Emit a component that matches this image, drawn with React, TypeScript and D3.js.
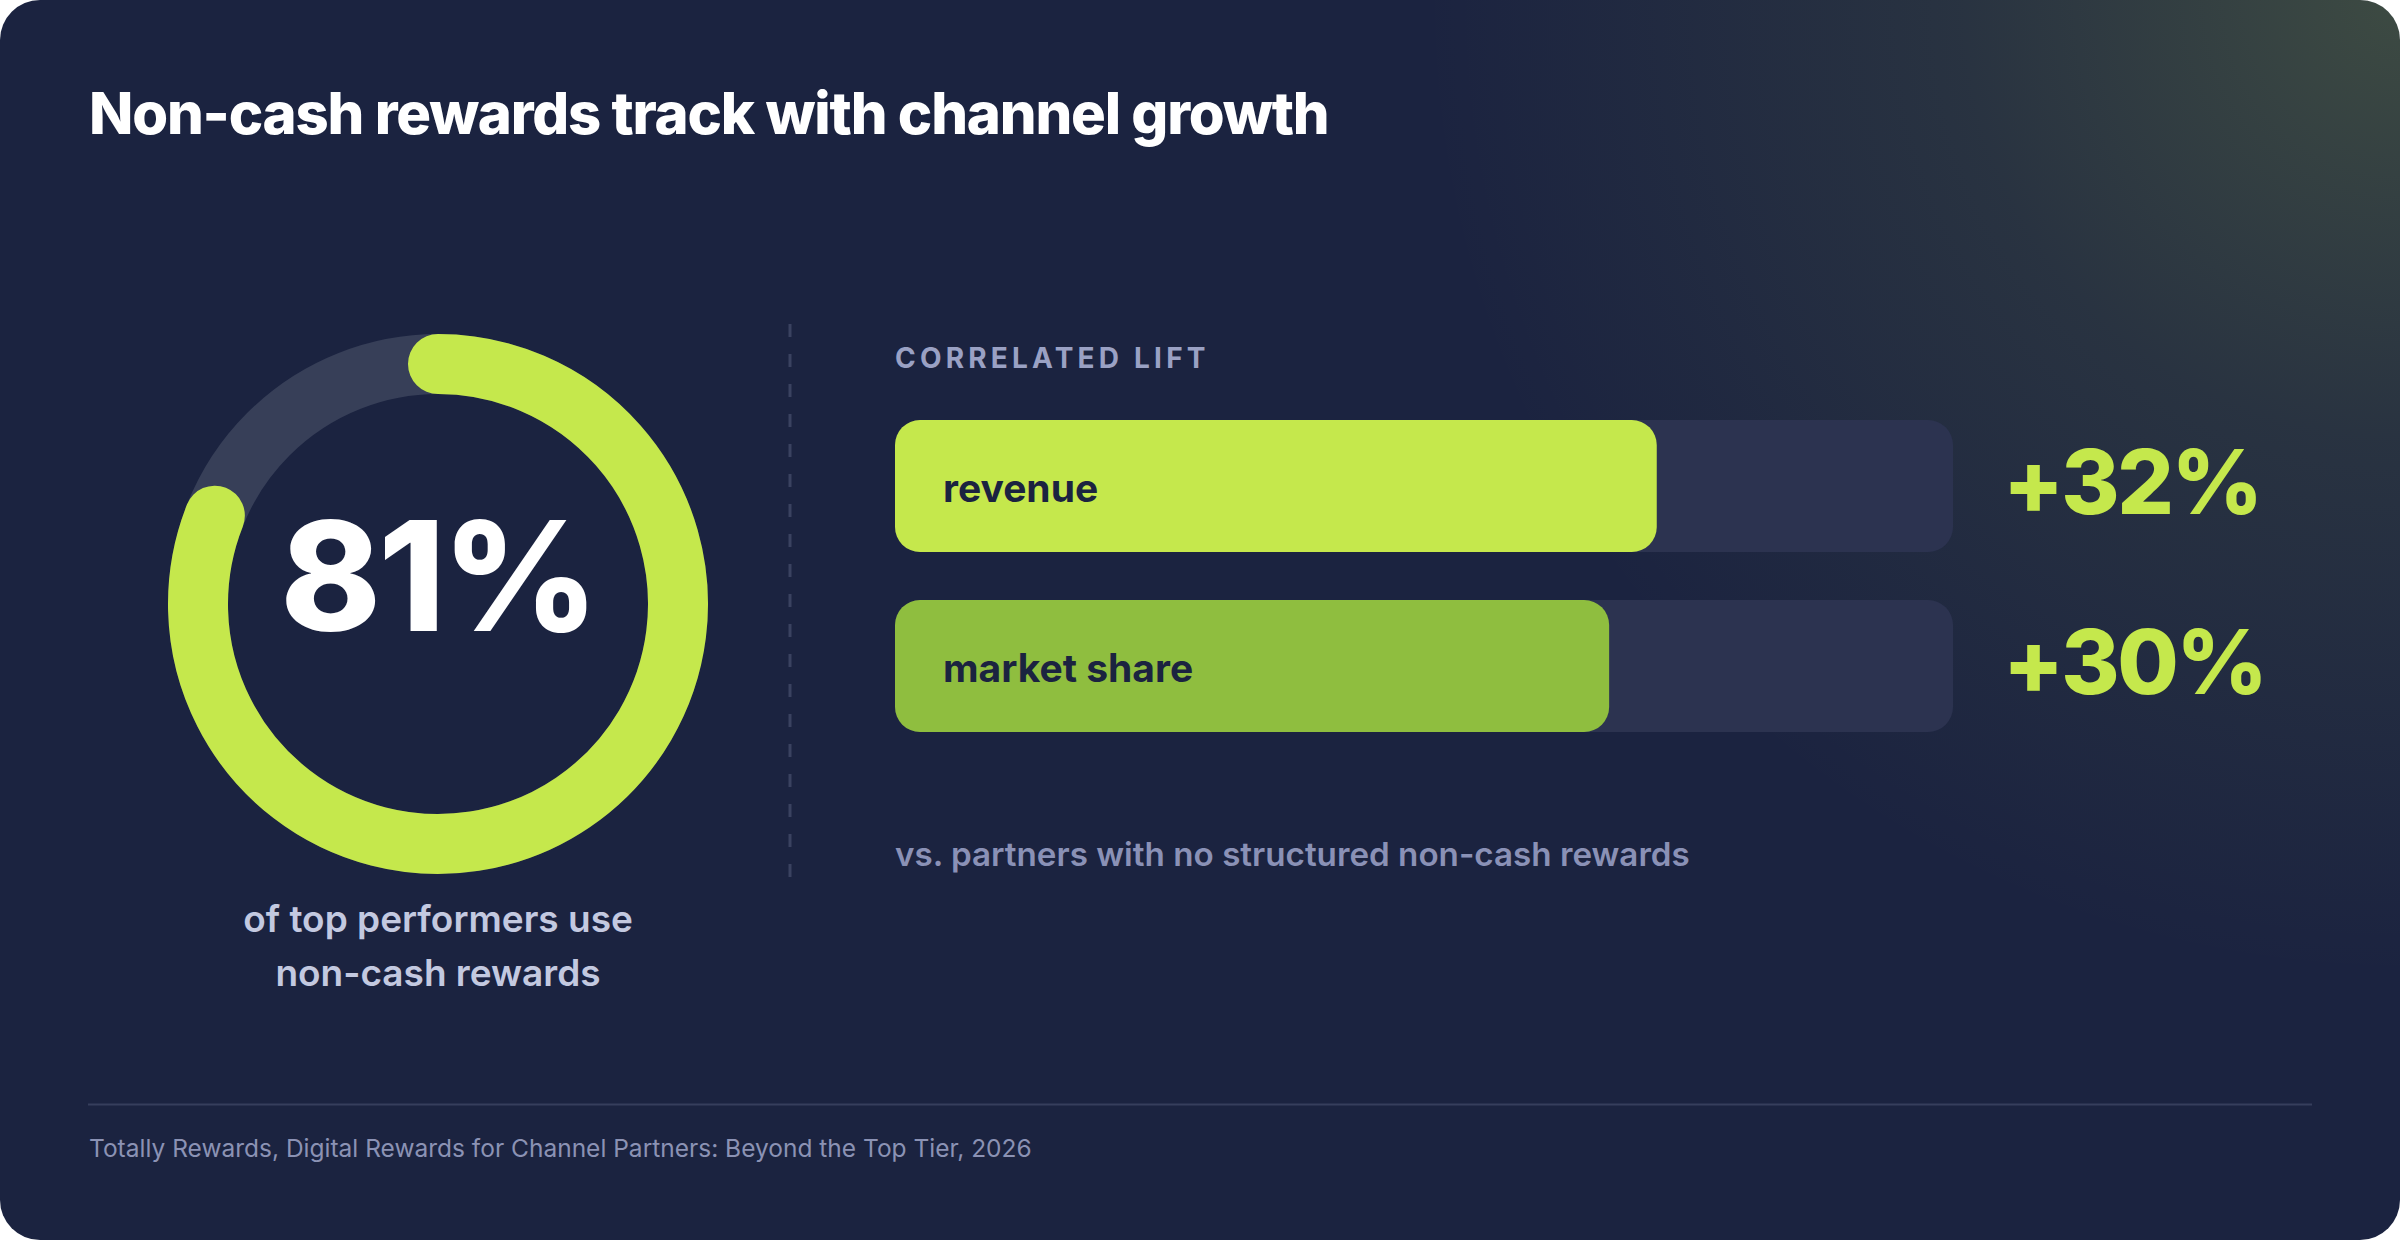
import React, { useEffect, useRef } from 'react'
import * as d3 from 'd3'

const headline = 'Non-cash rewards track with channel growth'
const shareValue = 81
const shareCaption = ['of top performers use', 'non-cash rewards']
const liftHeading = 'CORRELATED LIFT'
const liftCategories = ['revenue', 'market share']
const liftValues = [32, 30]
const liftColors = ['#c5e84c', '#8fbe3f']
const liftNote = 'vs. partners with no structured non-cash rewards'
const sourceNote = 'Totally Rewards, Digital Rewards for Channel Partners: Beyond the Top Tier, 2026'

const W = 2400
const H = 1240
const FONT = 'Inter, "Noto Sans", sans-serif'

export default function App() {
  const svgRef = useRef<SVGSVGElement>(null)

  useEffect(() => {
    document.body.style.margin = '0'
    document.body.style.background = '#ffffff'
    if (!svgRef.current) return

    const svg = d3.select(svgRef.current)
    svg.selectAll('*').remove()

    // card + glow
    const defs = svg.append('defs')
    const glow = defs
      .append('radialGradient')
      .attr('id', 'glow')
      .attr('gradientUnits', 'userSpaceOnUse')
      .attr('cx', W)
      .attr('cy', 0)
      .attr('r', 980)
    glow.append('stop').attr('offset', '0%').attr('stop-color', '#c5e84c').attr('stop-opacity', 0.2)
    glow.append('stop').attr('offset', '45%').attr('stop-color', '#c5e84c').attr('stop-opacity', 0.08)
    glow.append('stop').attr('offset', '100%').attr('stop-color', '#c5e84c').attr('stop-opacity', 0)

    svg.append('rect').attr('width', W).attr('height', H).attr('rx', 40).attr('fill', '#1b2340')
    svg.append('rect').attr('width', W).attr('height', H).attr('rx', 40).attr('fill', 'url(#glow)')

    svg
      .append('text')
      .attr('x', 89)
      .attr('y', 134)
      .style('font-family', FONT)
      .style('font-size', '58px')
      .style('font-weight', '800')
      .style('letter-spacing', '-1.2px')
      .style('fill', '#ffffff')
      .text(headline)

    // donut
    const cx = 438
    const cy = 604
    const r = 240
    const angle = d3.scaleLinear().domain([0, 100]).range([0, 2 * Math.PI])

    const ring = svg.append('g').attr('transform', `translate(${cx},${cy})`)
    ring
      .append('circle')
      .attr('r', r)
      .attr('fill', 'none')
      .attr('stroke', '#373f58')
      .attr('stroke-width', 60)

    const p = d3.path()
    p.arc(0, 0, r, -Math.PI / 2, -Math.PI / 2 + angle(shareValue))
    ring
      .append('path')
      .attr('d', p.toString())
      .attr('fill', 'none')
      .attr('stroke', '#c5e84c')
      .attr('stroke-width', 60)
      .attr('stroke-linecap', 'round')

    ring
      .append('text')
      .attr('y', 27)
      .attr('text-anchor', 'middle')
      .style('font-family', FONT)
      .style('font-size', '152px')
      .style('font-weight', '800')
      .style('letter-spacing', '-3px')
      .style('fill', '#ffffff')
      .text(`${shareValue}%`)

    svg
      .append('g')
      .selectAll('text')
      .data(shareCaption)
      .join('text')
      .attr('x', cx)
      .attr('y', (d, i) => 932 + i * 54)
      .attr('text-anchor', 'middle')
      .style('font-family', FONT)
      .style('font-size', '37px')
      .style('font-weight', '600')
      .style('fill', '#c3c9e0')
      .text((d) => d)

    // divider
    svg
      .append('line')
      .attr('x1', 790)
      .attr('x2', 790)
      .attr('y1', 324)
      .attr('y2', 878)
      .attr('stroke', '#3a4260')
      .attr('stroke-width', 3)
      .attr('stroke-dasharray', '13,17')

    // lift bars
    const left = 895
    const right = 1953
    const xScale = d3.scaleLinear().domain([0, 40 / 0.9]).range([left, right])
    const yScale = d3.scaleBand().domain(liftCategories).range([420, 732]).paddingInner(0.267)

    svg
      .append('text')
      .attr('x', left)
      .attr('y', 368)
      .style('font-family', FONT)
      .style('font-size', '28px')
      .style('font-weight', '700')
      .style('letter-spacing', '4.2px')
      .style('fill', '#9aa1c4')
      .text(liftHeading)

    const rows = svg
      .append('g')
      .selectAll('g')
      .data(liftCategories)
      .join('g')
      .attr('transform', (d) => `translate(0,${yScale(d)})`)

    rows
      .append('rect')
      .attr('x', left)
      .attr('width', right - left)
      .attr('height', yScale.bandwidth())
      .attr('rx', 25)
      .attr('fill', '#2c3350')

    rows
      .append('rect')
      .attr('x', left)
      .attr('width', (d, i) => xScale(liftValues[i]) - left)
      .attr('height', yScale.bandwidth())
      .attr('rx', 25)
      .attr('fill', (d, i) => liftColors[i])

    rows
      .append('text')
      .attr('x', left + 48)
      .attr('y', yScale.bandwidth() / 2)
      .attr('dy', '0.4em')
      .style('font-family', FONT)
      .style('font-size', '39px')
      .style('font-weight', '700')
      .style('fill', '#1b2340')
      .text((d) => d)

    rows
      .append('text')
      .attr('x', 2003)
      .attr('y', yScale.bandwidth() / 2)
      .attr('dy', '0.31em')
      .style('font-family', FONT)
      .style('font-size', '89px')
      .style('font-weight', '800')
      .style('letter-spacing', '-2.5px')
      .style('fill', '#c5e84c')
      .text((d, i) => `+${liftValues[i]}%`)

    svg
      .append('text')
      .attr('x', left)
      .attr('y', 866)
      .style('font-family', FONT)
      .style('font-size', '33.2px')
      .style('font-weight', '600')
      .style('fill', '#8a91b6')
      .text(liftNote)

    // footer
    svg
      .append('line')
      .attr('x1', 88)
      .attr('x2', 2312)
      .attr('y1', 1104.5)
      .attr('y2', 1104.5)
      .attr('stroke', '#363e5c')
      .attr('stroke-width', 2)

    svg
      .append('text')
      .attr('x', 89)
      .attr('y', 1157)
      .style('font-family', FONT)
      .style('font-size', '24.5px')
      .style('font-weight', '400')
      .style('fill', '#8b92b4')
      .text(sourceNote)
  }, [])

  return (
    <div style={{ width: W, height: H }}>
      <svg ref={svgRef} width={W} height={H} style={{ display: 'block' }} />
    </div>
  )
}
